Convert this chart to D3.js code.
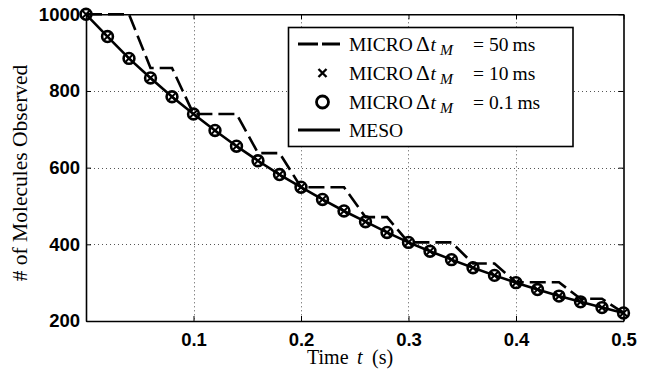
<!DOCTYPE html>
<html>
<head>
<meta charset="utf-8">
<script src="https://cdn.jsdelivr.net/npm/d3@7/dist/d3.min.js"></script>
<style>
  html, body { margin: 0; padding: 0; background: #fff; }
  svg { display: block; }
  .tick text { font-family: "Liberation Sans", Arial, sans-serif; font-weight: bold; font-size: 18.5px; fill: #000; }
</style>
</head>
<body>
<svg id="chart" width="651" height="371"></svg>
<script>
// Observation times (s)
const times = [0, 0.02, 0.04, 0.06, 0.08, 0.10, 0.12, 0.14, 0.16, 0.18, 0.20, 0.22, 0.24,
               0.26, 0.28, 0.30, 0.32, 0.34, 0.36, 0.38, 0.40, 0.42, 0.44, 0.46, 0.48, 0.50];

// Molecules observed per model
const micro50 = [1000, 1000, 1000, 860, 860, 740, 740, 740, 638, 638, 549, 549, 549,
                 471, 471, 405, 405, 405, 350, 350, 301, 301, 301, 258, 258, 221];
const micro10 = [1000, 942, 885, 834, 785, 740, 697, 656, 618, 582, 549, 517, 487,
                 459, 431, 405, 382, 360, 339, 319, 300, 282, 265, 250, 235, 221];
const micro01 = [1000, 942, 885, 834, 785, 740, 697, 656, 618, 582, 549, 517, 487,
                 459, 431, 405, 382, 360, 339, 319, 300, 282, 265, 250, 235, 221];
const meso    = [1000, 942, 885, 834, 785, 740, 697, 656, 618, 582, 549, 517, 487,
                 459, 431, 405, 382, 360, 339, 319, 300, 282, 265, 250, 235, 221];

// Axis ticks
const xTicks = [0.1, 0.2, 0.3, 0.4, 0.5];
const yTicks = [200, 400, 600, 800, 1000];

const SERIF = "Liberation Serif, Times New Roman, serif";
const svg = d3.select("#chart");
const pLeft = 86, pRight = 623.5, pTop = 14.3, pBottom = 321;

const x = d3.scaleLinear().domain([0, 0.5]).range([pLeft, pRight]);
const y = d3.scaleLinear().domain([200, 1000]).range([pBottom, pTop]);

// Dotted grid
const grid = svg.append("g").attr("stroke", "#555").attr("stroke-width", 1)
  .attr("stroke-dasharray", "1,3");
grid.selectAll("line.gx").data(xTicks.filter(d => d < 0.5)).join("line")
  .attr("class", "gx")
  .attr("x1", d => Math.round(x(d)) + 0.5).attr("x2", d => Math.round(x(d)) + 0.5)
  .attr("y1", pTop).attr("y2", pBottom);
grid.selectAll("line.gy").data(yTicks.filter(d => d > 200 && d < 1000)).join("line")
  .attr("class", "gy")
  .attr("x1", pLeft).attr("x2", pRight)
  .attr("y1", d => Math.round(y(d)) + 0.5).attr("y2", d => Math.round(y(d)) + 0.5);

const pts = arr => arr.map((v, i) => [times[i], v]);
const line = d3.line().x(d => x(d[0])).y(d => y(d[1]));

// MICRO 50 ms (dashed)
svg.append("path").datum(pts(micro50)).attr("d", line)
  .attr("fill", "none").attr("stroke", "#000").attr("stroke-width", 2.6)
  .attr("stroke-dasharray", "16,6");

// MICRO 10 ms (x markers)
const xm = 3.6;
svg.append("g").selectAll("path").data(pts(micro10)).join("path")
  .attr("d", d => {
    const cx = x(d[0]), cy = y(d[1]);
    return `M${cx - xm},${cy - xm}L${cx + xm},${cy + xm}M${cx - xm},${cy + xm}L${cx + xm},${cy - xm}`;
  })
  .attr("stroke", "#000").attr("stroke-width", 2).attr("fill", "none");

// MICRO 0.1 ms (circles)
svg.append("g").selectAll("circle").data(pts(micro01)).join("circle")
  .attr("cx", d => x(d[0])).attr("cy", d => y(d[1])).attr("r", 5.4)
  .attr("fill", "none").attr("stroke", "#000").attr("stroke-width", 2.6);

// MESO (solid)
svg.append("path").datum(pts(meso)).attr("d", line)
  .attr("fill", "none").attr("stroke", "#000").attr("stroke-width", 2.6);

// Axes with inward ticks on all four sides
const axB = svg.append("g").attr("transform", `translate(0,${pBottom})`)
  .call(d3.axisBottom(x).tickValues(xTicks).tickFormat(d3.format(".1f"))
    .tickSizeInner(-5).tickSizeOuter(0).tickPadding(12));
const axL = svg.append("g").attr("transform", `translate(${pLeft},0)`)
  .call(d3.axisLeft(y).tickValues(yTicks).tickFormat(d3.format("d"))
    .tickSizeInner(-5).tickSizeOuter(0).tickPadding(6));
const axT = svg.append("g").attr("transform", `translate(0,${pTop})`)
  .call(d3.axisTop(x).tickValues(xTicks).tickFormat("").tickSizeInner(-5).tickSizeOuter(0));
const axR = svg.append("g").attr("transform", `translate(${pRight},0)`)
  .call(d3.axisRight(y).tickValues(yTicks).tickFormat("").tickSizeInner(-5).tickSizeOuter(0));
[axB, axL, axT, axR].forEach(a => {
  a.selectAll(".domain").attr("stroke", "#000").attr("stroke-width", 1.6);
  a.selectAll(".tick line").attr("stroke", "#000").attr("stroke-width", 1);
});

// Legend
const lg = svg.append("g");
lg.append("rect").attr("x", 288.5).attr("y", 27.5).attr("width", 284.5).attr("height", 119)
  .attr("fill", "#fff").attr("stroke", "#000").attr("stroke-width", 1.6);
const rows = [44, 73, 102, 130];
const sx0 = 298, sx1 = 340, mx = 322.5, tx = 349;
lg.append("line").attr("x1", sx0).attr("x2", sx1).attr("y1", rows[0]).attr("y2", rows[0])
  .attr("stroke", "#000").attr("stroke-width", 2.8).attr("stroke-dasharray", "20,4");
lg.append("path")
  .attr("d", `M${mx - 4},${rows[1] - 4}L${mx + 4},${rows[1] + 4}M${mx - 4},${rows[1] + 4}L${mx + 4},${rows[1] - 4}`)
  .attr("stroke", "#000").attr("stroke-width", 2.4);
lg.append("circle").attr("cx", mx).attr("cy", rows[2]).attr("r", 6)
  .attr("fill", "none").attr("stroke", "#000").attr("stroke-width", 2.8);
lg.append("line").attr("x1", sx0).attr("x2", sx1).attr("y1", rows[3]).attr("y2", rows[3])
  .attr("stroke", "#000").attr("stroke-width", 3);

const steps = ["50", "10", "0.1"];
const labels = steps.map(s => ({ step: s })).concat([{ name: "MESO" }]);
labels.forEach((l, i) => {
  const t = lg.append("text").attr("font-family", SERIF).attr("fill", "#000")
    .attr("x", tx).attr("y", rows[i] + 7).attr("font-size", 19.5);
  if (l.name) { t.text(l.name); return; }
  t.append("tspan").text("MICRO");
  t.append("tspan").attr("x", 416).attr("font-size", 21.5).text("\u0394");
  t.append("tspan").attr("x", 430.5).attr("font-style", "italic").text("t");
  t.append("tspan").attr("x", 440).attr("font-style", "italic").attr("font-size", 15.5)
    .attr("dy", 4).text("M");
  t.append("tspan").attr("x", 473).attr("dy", -4).text("=");
  t.append("tspan").attr("x", 489).text(l.step);
  t.append("tspan").attr("dx", 4).text("ms");
});

// Axis titles
const xt = svg.append("text").attr("font-family", SERIF).attr("fill", "#000")
  .attr("y", 364).attr("font-size", 20);
xt.append("tspan").attr("x", 307).text("Time");
xt.append("tspan").attr("x", 357).attr("font-style", "italic").text("t");
xt.append("tspan").attr("x", 372).text("(s)");

svg.append("text").attr("font-family", SERIF).attr("fill", "#000")
  .attr("transform", "translate(27,173) rotate(-90)")
  .attr("text-anchor", "middle").attr("font-size", 21.5)
  .text("# of Molecules Observed");
</script>
</body>
</html>
